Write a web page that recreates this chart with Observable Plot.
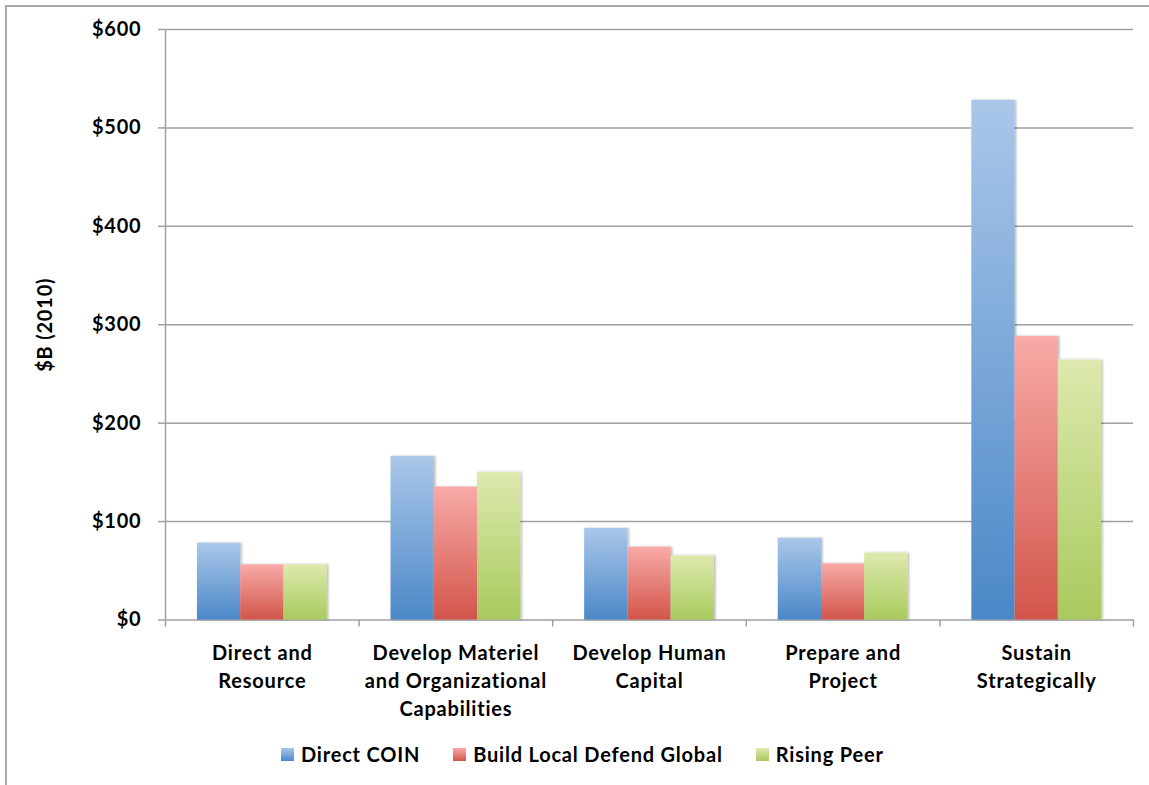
<!DOCTYPE html>
<html>
<head>
<meta charset="utf-8">
<script src="https://cdn.jsdelivr.net/npm/d3@7"></script>
<script src="https://cdn.jsdelivr.net/npm/@observablehq/plot@0.6"></script>
<style>
  html, body { margin: 0; padding: 0; background: #fff; }
  body { width: 1149px; height: 785px; position: relative; overflow: hidden; font-family: Lato, "Open Sans", sans-serif; }
  #frame { position: absolute; left: 5px; top: 5px; width: 1200px; height: 900px; border: 2px solid #a9a9a9; box-sizing: border-box; }
  #chart { position: absolute; left: 0; top: 0; }
  #legend { position: absolute; left: 281px; top: 742px; display: flex; align-items: center; font-size: 20px; font-weight: bold; letter-spacing: 0.8px; color: #000; }
  .item { display: flex; align-items: center; margin-right: 33px; }
  .sw { width: 13px; height: 13px; margin-right: 7px; }
</style>
</head>
<body>
<div id="frame"></div>
<div id="chart"></div>
<div id="legend"></div>
<script>
const categories = ["Direct and Resource", "Develop Materiel and Organizational Capabilities", "Develop Human Capital", "Prepare and Project", "Sustain Strategically"];
const categoryLabels = ["Direct and\nResource", "Develop Materiel\nand Organizational\nCapabilities", "Develop Human\nCapital", "Prepare and\nProject", "Sustain\nStrategically"];
const seriesNames = ["Direct COIN", "Build Local Defend Global", "Rising Peer"];
const directCOIN = [78, 166, 93, 83, 528];
const buildLocalDefendGlobal = [56, 135, 74, 57, 288];
const risingPeer = [56, 150, 65, 68, 264];
const yTicks = [0, 100, 200, 300, 400, 500, 600];

// styles (kept apart from the data)
const gradTop = ["#aac7e9", "#f8aaa7", "#dde9ae"];
const gradBottom = ["#4b88c8", "#d2554b", "#a9ca5d"];
const gridColor = "#a0a0a0";

const seriesValues = [directCOIN, buildLocalDefendGlobal, risingPeer];
const table = [];
categories.forEach((c, i) => seriesNames.forEach((s, j) => table.push({category: c, i, series: s, j, value: seriesValues[j][i]})));

// each category occupies one unit of the x scale; the three bars fill this share of it
const groupShare = 0.67;
const barShare = groupShare / seriesNames.length;
const left = d => d.i + (1 - groupShare) / 2 + d.j * barShare;
const right = d => left(d) + barShare;

const gradIds = seriesNames.map((_, j) => `grad${j}`);

const plot = Plot.plot({
  width: 1149,
  height: 735,
  marginLeft: 165,
  marginRight: 16,
  marginTop: 29,
  marginBottom: 115.5,
  style: {fontFamily: "Lato, 'Open Sans', sans-serif", fontWeight: "bold", fontSize: "20px", letterSpacing: "0.8px", color: "#000", background: "transparent"},
  x: {type: "linear", domain: [0, categories.length], axis: null},
  y: {domain: [0, 600], axis: null},
  color: {domain: seriesNames, range: gradIds.map(id => `url(#${id})`)},
  marks: [
    Plot.ruleY(yTicks, {stroke: gridColor, strokeWidth: 1.5}),
    Plot.ruleX([0], {stroke: gridColor, strokeWidth: 1.5}),
    Plot.axisY({ticks: yTicks, tickSize: 7, tickFormat: () => "", stroke: gridColor, strokeWidth: 1.5, label: null}),
    Plot.axisY({ticks: yTicks, tickSize: 0, tickPadding: 24, tickFormat: d => "$" + d, fontSize: 20, fontWeight: "bold", fill: "#000", label: null, ariaLabel: "y tick labels"}),
    Plot.axisX({ticks: d3.range(categories.length + 1), tickSize: 7, tickFormat: () => "", stroke: gridColor, strokeWidth: 1.5, label: null}),
    Plot.axisX({ticks: categories.map((_, i) => i + 0.5), tickSize: 0, tickPadding: 20, tickFormat: (d, k) => categoryLabels[k], fontSize: 20, fontWeight: "bold", lineHeight: 1.4, fill: "#000", label: null}),
    Plot.text(["$B (2010)"], {frameAnchor: "left", textAnchor: "middle", dx: -120, rotate: -90, fontSize: 20, fontWeight: "bold", fill: "#000"}),
    Plot.rectY(table, {x1: left, x2: right, y: "value", fill: "series"})
  ]
});

const svg = d3.select(plot);
const defs = svg.insert("defs", ":first-child");
seriesNames.forEach((_, j) => {
  const g = defs.append("linearGradient").attr("id", gradIds[j]).attr("x1", 0).attr("y1", 0).attr("x2", 0).attr("y2", 1);
  g.append("stop").attr("offset", "0%").attr("stop-color", gradTop[j]);
  g.append("stop").attr("offset", "100%").attr("stop-color", gradBottom[j]);
});
const f = defs.append("filter").attr("id", "shadow").attr("x", "-20%").attr("y", "-5%").attr("width", "140%").attr("height", "110%");
f.append("feDropShadow").attr("dx", 1.5).attr("dy", 0).attr("stdDeviation", 1.2).attr("flood-color", "#000").attr("flood-opacity", 0.3);
svg.selectAll('g[aria-label="rect"]').attr("filter", "url(#shadow)");
svg.selectAll('g[aria-label="y tick labels"]').style("letter-spacing", "0.3px");

document.getElementById("chart").appendChild(plot);

const legend = d3.select("#legend");
seriesNames.forEach((s, j) => {
  const item = legend.append("div").attr("class", "item");
  item.append("div").attr("class", "sw").style("background", `linear-gradient(${gradTop[j]}, ${gradBottom[j]})`);
  item.append("span").text(s);
});
</script>
</body>
</html>
